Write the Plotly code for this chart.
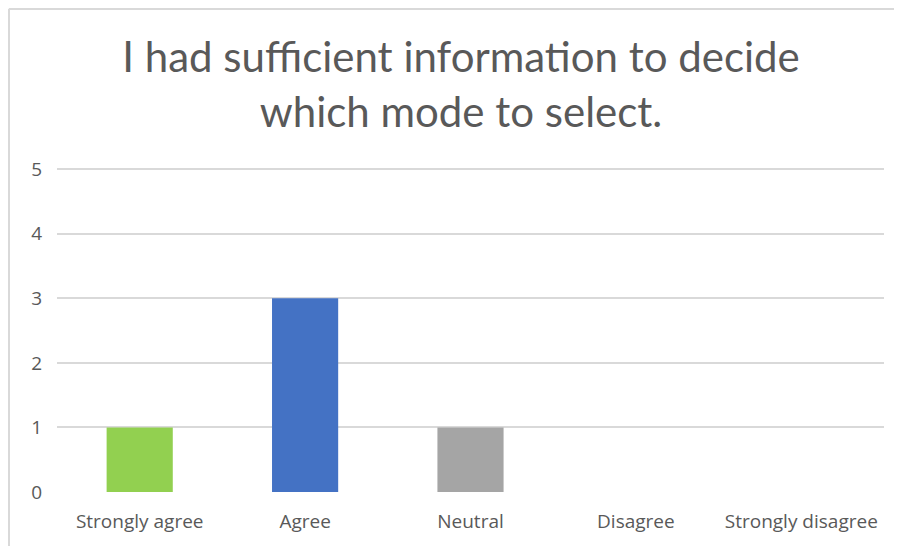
import plotly.graph_objects as go

categories = ["Strongly agree", "Agree", "Neutral", "Disagree", "Strongly disagree"]
values = [1, 3, 1, 0, 0]
bar_colors = ["#92D050", "#4472C4", "#A5A5A5", "#FFC000", "#5B9BD5"]
title_text = "I had sufficient information to decide<br>which mode to select."
y_ticks = [0, 1, 2, 3, 4, 5]

W, H = 894, 538
YMAX = 5.05
ML, MR, MT, MB = 49, 18, 158, 54
pw, ph = W - ML - MR, H - MT - MB

fig = go.Figure()
fig.add_trace(go.Bar(x=categories, y=values, marker=dict(color=bar_colors, line=dict(width=0)), width=0.4))

border = dict(color="#D9D9D9", width=2)
fig.update_layout(
    width=W, height=H,
    margin=dict(l=ML, r=MR, t=MT, b=MB),
    paper_bgcolor="white", plot_bgcolor="white",
    showlegend=False,
    title=dict(text=title_text, x=453 / W, xanchor="center", y=1 - 64.4 / H, yanchor="top",
               font=dict(family="Lato, sans-serif", size=42, color="#595959")),
    font=dict(family="Open Sans, sans-serif", size=19, color="#595959"),
    shapes=[
        dict(type="line", xref="paper", yref="paper", x0=-ML / pw + 0.001, x1=1.5,
             y0=(ph + MT - 1) / ph, y1=(ph + MT - 1) / ph, line=border),
        dict(type="line", xref="paper", yref="paper", x0=-(ML - 1) / pw, x1=-(ML - 1) / pw,
             y0=-1.0, y1=(ph + MT - 1) / ph, line=border),
    ],
)
fig.update_xaxes(showgrid=False, showline=False, zeroline=False, ticks="", ticklabelstandoff=16,
                 tickfont=dict(size=19, color="#595959"))
fig.update_yaxes(range=[0, YMAX], tickvals=y_ticks, showgrid=True, gridcolor="#D9D9D9", gridwidth=1.6,
                 zeroline=False, showline=False, ticks="", ticklabelstandoff=14,
                 tickfont=dict(size=19, color="#595959"))

fig.write_html("out.html")
